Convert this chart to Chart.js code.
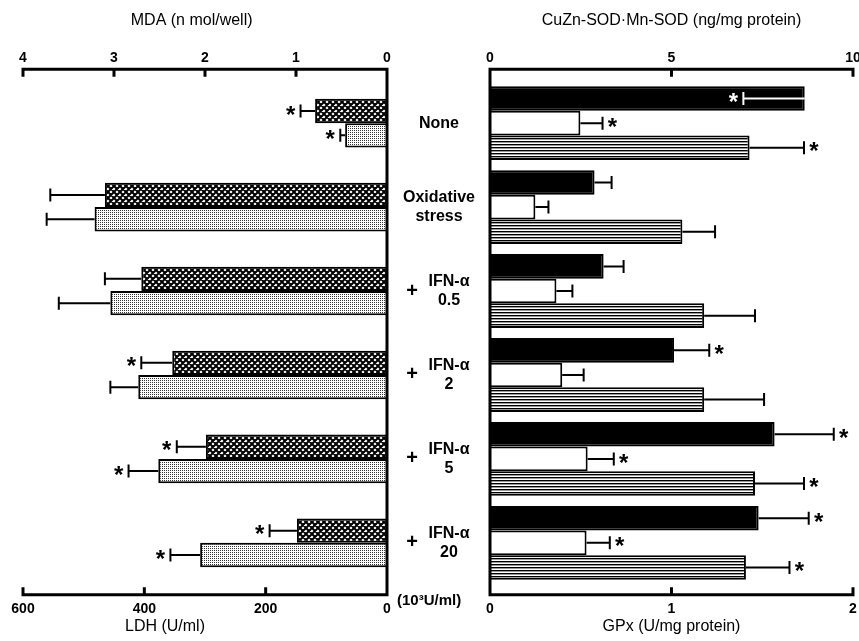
<!DOCTYPE html>
<html>
<head>
<meta charset="utf-8">
<script src="https://cdn.jsdelivr.net/npm/chart.js@4.4.1/dist/chart.umd.min.js"></script>
<style>
body { margin: 0; background: #fff; overflow: hidden; width: 859px; height: 641px; position: relative; }
canvas { position: absolute; left: 0; top: 0; }
</style>
</head>
<body>
<canvas id="izq" width="859" height="641"></canvas>
<canvas id="der" width="880" height="641"></canvas>
<script>
// categorias (lineas de texto de cada grupo)
const categorias = [['None'], ['Oxidative', 'stress'], ['+ IFN-α', '0.5'], ['+ IFN-α', '2'], ['+ IFN-α', '5'], ['+ IFN-α', '20']]

// panel izquierdo
const mda = [0.79, 3.10, 2.70, 2.36, 1.99, 0.99]
const mdaSd = [0.16, 0.60, 0.40, 0.34, 0.32, 0.30]
const mdaAst = [1, 0, 0, 1, 1, 1]
const ldh = [69, 482, 456, 410, 377, 308]
const ldhSd = [8, 79, 85, 46, 49, 49]
const ldhAst = [1, 0, 0, 0, 1, 1]

// panel derecho
const cuzn = [8.67, 2.88, 3.13, 5.07, 7.84, 7.40]
const cuznSd = [1.69, 0.47, 0.55, 0.97, 1.63, 1.38]
const cuznAst = [1, 0, 0, 1, 1, 1]
const cuznDentro = [1, 0, 0, 0, 0, 0]
const mn = [2.49, 1.25, 1.83, 1.99, 2.69, 2.66]
const mnSd = [0.61, 0.36, 0.44, 0.59, 0.72, 0.64]
const mnAst = [1, 0, 0, 0, 1, 1]
const gpx = [1.43, 1.06, 1.18, 1.18, 1.46, 1.41]
const gpxSd = [0.30, 0.18, 0.28, 0.33, 0.27, 0.24]
const gpxAst = [1, 0, 0, 0, 1, 1]

// ticks de los ejes [min, max, paso]
const ticksMda = [0, 4, 1]
const ticksLdh = [0, 600, 200]
const ticksSod = [0, 10, 5]
const ticksGpx = [0, 2, 1]

const FUENTE = '"Liberation Sans", Arial, sans-serif'
Chart.defaults.font.family = FUENTE
Chart.defaults.color = '#000'

// patrones de relleno
function patron(tam, dibujar) {
    const c = document.createElement('canvas')
    c.width = tam; c.height = tam
    const g = c.getContext('2d')
    g.fillStyle = '#fff'
    g.fillRect(0, 0, tam, tam)
    dibujar(g)
    return g.createPattern(c, 'repeat')
}
const cuadriculado = patron(6, g => {
    g.strokeStyle = '#000'
    g.lineWidth = 2
    g.beginPath()
    for (let k = -6; k <= 6; k += 6) { g.moveTo(k, 0); g.lineTo(k + 6, 6) }
    for (let k = 0; k <= 12; k += 6) { g.moveTo(k, 0); g.lineTo(k - 6, 6) }
    g.stroke()
})
const punteado = patron(2, g => { g.fillStyle = '#333'; g.fillRect(0, 0, 1, 1) })
const rayado = patron(3, g => {
    g.fillStyle = '#000'; g.fillRect(0, 0, 3, 1)
    g.fillStyle = '#999'; g.fillRect(0, 1, 3, 1)
})

// barras de error y asteriscos
const barrasError = {
    id: 'barrasError',
    afterDatasetsDraw(chart) {
        const ctx = chart.ctx
        chart.data.datasets.forEach((ds, i) => {
            const meta = chart.getDatasetMeta(i)
            const escala = chart.scales[ds.xAxisID]
            meta.data.forEach((barra, j) => {
                const v = ds.data[j]
                const dentro = ds.dentro && ds.dentro[j]
                const fin = escala.getPixelForValue(dentro ? v - ds.sd[j] : v + ds.sd[j])
                const dir = Math.sign(fin - barra.x)
                ctx.save()
                ctx.strokeStyle = dentro ? '#fff' : '#000'
                ctx.lineWidth = 2
                ctx.beginPath()
                ctx.moveTo(barra.x, barra.y); ctx.lineTo(fin, barra.y)
                ctx.moveTo(fin, barra.y - 6.5); ctx.lineTo(fin, barra.y + 6.5)
                ctx.stroke()
                if (ds.ast[j]) {
                    ctx.fillStyle = ctx.strokeStyle
                    ctx.font = 'bold 24px ' + FUENTE
                    ctx.textAlign = 'center'
                    ctx.textBaseline = 'middle'
                    ctx.fillText('*', fin + dir * 10, barra.y + 5)
                }
                ctx.restore()
            })
        })
    }
}

// lineas de los ejes con ticks hacia dentro
const marco = {
    id: 'marco',
    afterDraw(chart) {
        const ctx = chart.ctx, a = chart.chartArea
        const yArr = a.top - 12, yAba = a.bottom + 10
        const xCero = chart.scales.x.getPixelForValue(0)
        ctx.save()
        ctx.strokeStyle = '#000'
        ctx.lineWidth = 3
        ctx.lineCap = 'square'
        ctx.beginPath()
        ctx.moveTo(a.left, yArr); ctx.lineTo(a.right, yArr)
        ctx.moveTo(a.left, yAba); ctx.lineTo(a.right, yAba)
        ctx.moveTo(xCero, yArr); ctx.lineTo(xCero, yAba)
        chart.scales.xTop.ticks.forEach(t => {
            const x = chart.scales.xTop.getPixelForValue(t.value)
            ctx.moveTo(x, yArr); ctx.lineTo(x, yArr + 6)
        })
        chart.scales.x.ticks.forEach(t => {
            const x = chart.scales.x.getPixelForValue(t.value)
            ctx.moveTo(x, yAba); ctx.lineTo(x, yAba - 6)
        })
        ctx.stroke()
        ctx.restore()
    }
}

// etiquetas de los grupos en el centro
const etiquetasCentro = {
    id: 'etiquetasCentro',
    afterDraw(chart) {
        const ctx = chart.ctx, y = chart.scales.y
        ctx.save()
        ctx.fillStyle = '#000'
        ctx.textAlign = 'center'
        ctx.textBaseline = 'middle'
        categorias.forEach((lineas, i) => {
            const yc = y.getPixelForValue(i)
            const texto = lineas.slice()
            let xc = 439
            if (texto[0].startsWith('+')) {
                ctx.font = 'bold 20px ' + FUENTE
                ctx.fillText('+', 412, yc)
                texto[0] = texto[0].slice(1).trim()
                xc = 449
            }
            ctx.font = 'bold 16px ' + FUENTE
            const n = texto.length
            texto.forEach((t, k) => ctx.fillText(t, xc, yc + (k - (n - 1) / 2) * 19))
        })
        ctx.font = 'bold 15px ' + FUENTE
        ctx.textAlign = 'left'
        ctx.fillText('(10³U/ml)', 397, chart.chartArea.bottom + 16)
        ctx.restore()
    }
}

function ejeX(pos, rango, titulo, invertido) {
    const arriba = pos === 'top'
    return {
        type: 'linear',
        position: pos,
        axis: 'x',
        reverse: invertido,
        min: rango[0],
        max: rango[1],
        grid: { display: false, drawTicks: true, tickLength: arriba ? 14.6 : 15.6 },
        border: { display: false },
        ticks: { stepSize: rango[2], padding: 0, maxRotation: 0, font: { size: 14, weight: 'bold' } },
        title: {
            display: true,
            text: titulo,
            font: { size: 16 },
            padding: arriba ? { top: 0, bottom: 20 } : { top: 0, bottom: 0 }
        }
    }
}

const comun = {
    responsive: false,
    animation: false,
    indexAxis: 'y',
    plugins: { legend: { display: false }, tooltip: { enabled: false } }
}

new Chart(document.getElementById('izq'), {
    type: 'bar',
    data: {
        labels: categorias,
        datasets: [
            { data: mda, sd: mdaSd, ast: mdaAst, xAxisID: 'xTop', backgroundColor: cuadriculado, borderColor: '#000', borderWidth: 2, categoryPercentage: 0.58, barPercentage: 1 },
            { data: ldh, sd: ldhSd, ast: ldhAst, xAxisID: 'x', backgroundColor: punteado, borderColor: '#000', borderWidth: 2, categoryPercentage: 0.58, barPercentage: 1 }
        ]
    },
    options: {
        ...comun,
        layout: { padding: { left: 23, right: 472, top: 10.6, bottom: 4.6 } },
        scales: {
            y: { type: 'category', display: false },
            x: ejeX('bottom', ticksLdh, 'LDH (U/ml)' + ' '.repeat(18), true),
            xTop: ejeX('top', ticksMda, 'MDA (n mol/well)' + ' '.repeat(6), true)
        }
    },
    plugins: [barrasError, marco]
})

new Chart(document.getElementById('der'), {
    type: 'bar',
    data: {
        labels: categorias,
        datasets: [
            { data: cuzn, sd: cuznSd, ast: cuznAst, dentro: cuznDentro, xAxisID: 'xTop', backgroundColor: '#000', borderColor: '#000', borderWidth: 2, categoryPercentage: 0.88, barPercentage: 1 },
            { data: mn, sd: mnSd, ast: mnAst, xAxisID: 'xTop', backgroundColor: '#fff', borderColor: '#000', borderWidth: 2, categoryPercentage: 0.88, barPercentage: 1 },
            { data: gpx, sd: gpxSd, ast: gpxAst, xAxisID: 'x', backgroundColor: rayado, borderColor: '#000', borderWidth: 2, categoryPercentage: 0.88, barPercentage: 1 }
        ]
    },
    options: {
        ...comun,
        layout: { padding: { left: 490, right: 27, top: 10.6, bottom: 4.6 } },
        scales: {
            y: { type: 'category', display: false },
            x: ejeX('bottom', ticksGpx, 'GPx (U/mg protein)', false),
            xTop: ejeX('top', ticksSod, 'CuZn-SOD·Mn-SOD (ng/mg protein)', false)
        }
    },
    plugins: [barrasError, marco, etiquetasCentro]
})
</script>
</body>
</html>
